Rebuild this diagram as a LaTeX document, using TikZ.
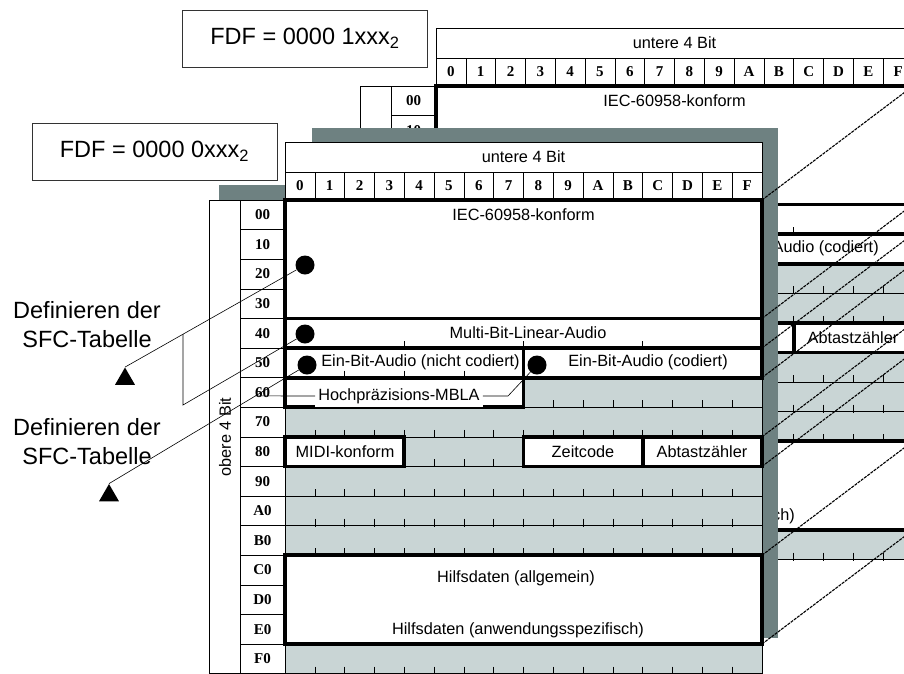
\documentclass[tikz,border=0pt]{standalone}
\usepackage{fontspec}
\setmainfont{Liberation Serif}
\newfontfamily\sfcsans{Liberation Sans}
\usepackage{xcolor}
\usepackage{tikz}
\usetikzlibrary{shapes.geometric,calc}

\definecolor{cellgray}{HTML}{C9D5D5}
\definecolor{shadowgray}{HTML}{6E8181}

\tikzset{
    thinline/.style={line width=0.6pt, draw=black},
    blk/.style={draw=black, line width=3.8pt, fill=white, inner sep=0pt, outer sep=0pt, anchor=north west},
    blktext/.style={font=\sfcsans\fontsize{16.3}{19}\selectfont, inner sep=1pt},
    hexdigit/.style={font=\bfseries\fontsize{15}{17}\selectfont, inner sep=0pt},
    fdfbox/.style={draw=black!80, line width=0.8pt, fill=white, minimum width=245pt, minimum height=57pt, font=\sfcsans\fontsize{23.5}{26}\selectfont},
    persp/.style={line width=1.1pt, dash pattern=on 3pt off 1pt},
    pointer/.style={line width=0.6pt},
    bullet/.style={circle, fill=black, minimum size=19pt, inner sep=0pt},
    arrowtri/.style={regular polygon, regular polygon sides=3, fill=black, minimum size=23pt, inner sep=0pt},
    sfcnote/.style={align=center, font=\sfcsans\fontsize{23.5}{29}\selectfont}
}

\newif\ifreartable

% one SFC table, #1 = prefix of the node names
\newcommand{\sfctable}[1]{%
    \draw[thinline, fill=white] (285,142) rectangle (762,199);
    \draw[thinline] (285,172) -- (762,172);
    \foreach \k in {1,...,15}
        \draw[thinline] ({285+29.8125*\k},172) -- ({285+29.8125*\k},199);
    \node[blktext] (#1untere) at (523.5,157) {untere 4 Bit};
    \foreach \d [count=\k from 0] in {0,1,2,3,4,5,6,7,8,9,A,B,C,D,E,F}
        \node[hexdigit] (#1col\d) at ({285+29.8125*(\k+0.5)},186) {\d};
    \draw[thinline, fill=white] (209,200) rectangle (240,673.6);
    \draw[thinline, fill=white] (240,200) rectangle (285,673.6);
    \foreach \r in {1,...,15}
        \draw[thinline] (240,{200+29.6*\r}) -- (285,{200+29.6*\r});
    \ifreartable
        \def\rowlist{00,10}
    \else
        \def\rowlist{00,10,20,30,40,50,60,70,80,90,A0,B0,C0,D0,E0,F0}
        \node[blktext, rotate=90] (#1obere) at (225,437) {obere 4 Bit};
    \fi
    \foreach \z [count=\k from 0] in \rowlist
        \node[hexdigit] (#1row\z) at (262.5,{200+29.6*(\k+0.5)}) {\z};
    \fill[cellgray] (285,200) rectangle (762,673.6);
    \foreach \r in {1,...,16} {
        \draw[thinline] (285,{200+29.6*\r}) -- (762,{200+29.6*\r});
        \foreach \k in {1,...,15}
            \draw[thinline] ({285+29.8125*\k},{193+29.6*\r}) -- ++(0,8);
    }
    \draw[thinline] (285,200) rectangle (762,673.6);
    \node[blk, minimum width=477pt, minimum height=118.4pt] (#1iec) at (285,200) {};
    \node[blk, minimum width=477pt, minimum height=29.6pt] (#1mbla) at (285,318.4) {};
    \node[blk, minimum width=238.5pt, minimum height=29.6pt] (#1einnc) at (285,348) {};
    \node[blk, minimum width=238.5pt, minimum height=29.6pt] (#1einc) at (523.5,348) {};
    \node[blk, minimum width=238.5pt, minimum height=29.6pt] (#1hoch) at (285,377.6) {};
    \node[blk, minimum width=119.25pt, minimum height=29.6pt] (#1midi) at (285,436.8) {};
    \node[blk, minimum width=119.25pt, minimum height=29.6pt] (#1zeit) at (523.5,436.8) {};
    \node[blk, minimum width=119.25pt, minimum height=29.6pt] (#1abtast) at (642.75,436.8) {};
    \node[blk, minimum width=477pt, minimum height=88.8pt] (#1hilf) at (285,555.2) {};
    \foreach \k in {4,8,12}
        \draw[thinline] ({285+29.8125*\k},341) -- ++(0,7);
    \foreach \k in {2,4,6}
        \draw[thinline] ({285+29.8125*\k},370.6) -- ++(0,7);
    \node[blktext] (#1tiec) at (523.5,215) {IEC-60958-konform};
    \node[blktext] (#1teinc) at (648,362.5) {Ein-Bit-Audio (codiert)};
    \node[blktext] (#1tabtast) at (702,452) {Abtastzähler};
    \node[blktext] (#1thilfb) at (518,630) {Hilfsdaten (anwendungsspezifisch)};
    \ifreartable\else
        \node[blktext] (#1tmbla) at (528,333) {Multi-Bit-Linear-Audio};
        \node[blktext] (#1teinnc) at (420.5,362.5) {Ein-Bit-Audio (nicht codiert)};
        \node[blktext, fill=white, inner sep=3pt] (#1thoch) at (399,396) {Hochpräzisions-MBLA};
        \node[blktext] (#1tmidi) at (345,452) {MIDI-konform};
        \node[blktext] (#1tzeit) at (583,452) {Zeitcode};
        \node[blktext] (#1thilfa) at (516,578) {Hilfsdaten (allgemein)};
    \fi
}

\begin{document}
\begin{tikzpicture}[x=1pt, y=-1pt]
    \useasboundingbox (0,0) rectangle (904,673);
    \clip (0,0) rectangle (904,673);
    % rear table
    \node[fdfbox] (fdfb) at (305,38.5) {FDF = 0000 1xxx\textsubscript{2}};
    \reartabletrue
    \begin{scope}[shift={(151,-114)}]
        \sfctable{b}
    \end{scope}
    % shadow
    \fill[shadowgray] (312,128) rectangle (778,638);
    \fill[shadowgray] (219,185) rectangle (285,200);
    % front table
    \reartablefalse
    \sfctable{f}
    \foreach \blk/\anc in {iec/north east, iec/south east, mbla/south east, einc/south east, abtast/north east, abtast/south east, hilf/north east, hilf/south east}
        \draw[persp] (f\blk.\anc) -- (b\blk.\anc);
    % notes
    \node[fdfbox] (fdff) at (154.5,151.5) {FDF = 0000 0xxx\textsubscript{2}};
    \node[bullet] (dotiec) at (305,265) {};
    \node[bullet] (dotmbla) at (305,334) {};
    \node[bullet] (dotnc) at (307,365) {};
    \node[bullet] (dotcod) at (537,365) {};
    \node[arrowtri] (triA) at (125,379) {};
    \node[arrowtri] (triB) at (109,495.5) {};
    \node[sfcnote] (defA) at (87,324.5) {Definieren der\\SFC-Tabelle};
    \node[sfcnote] (defB) at (87,441.5) {Definieren der\\SFC-Tabelle};
    \coordinate (jA) at ($(dotiec)!0.678!(triA.corner 1)$);
    \coordinate (kA) at (183,405);
    \coordinate (jB) at ($(dotnc)!0.2605!(triB.corner 1)$);
    \coordinate (kB) at (508,396);
    \draw[pointer] (dotiec) -- (triA.corner 1);
    \draw[pointer] (dotmbla) -- (kA) -- (jA);
    \draw[pointer] (dotnc) -- (triB.corner 1);
    \draw[pointer] (dotcod) -- (kB) -- (fthoch.east);
    \draw[pointer] (fthoch.west) -- (jB);
\end{tikzpicture}
\end{document}
